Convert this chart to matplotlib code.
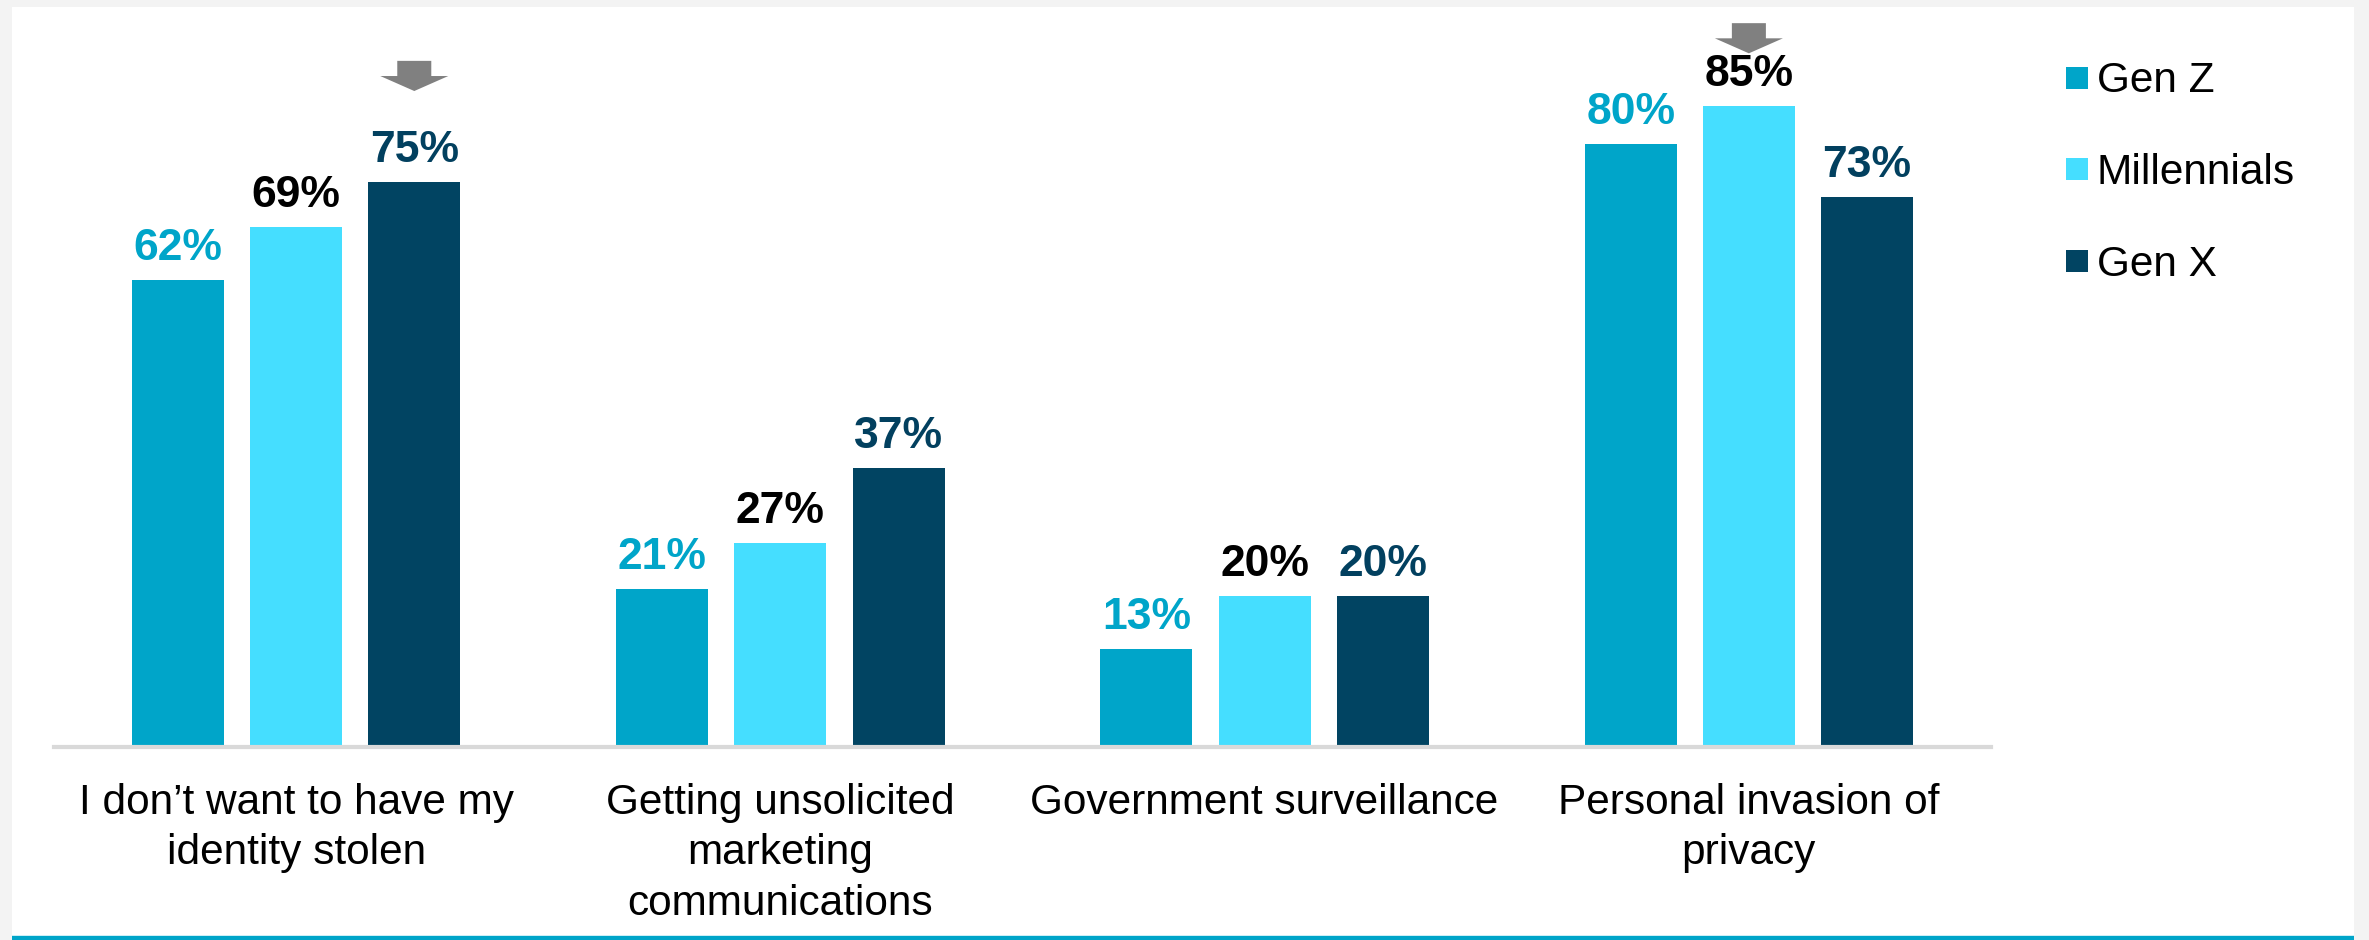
import matplotlib
matplotlib.use("Agg")
import matplotlib.pyplot as plt
from matplotlib.patches import Rectangle, Polygon
import numpy as np

plt.rcParams['font.family'] = ['Liberation Sans', 'DejaVu Sans']

categories = ["I don\u2019t want to have my\nidentity stolen",
              "Getting unsolicited\nmarketing\ncommunications",
              "Government surveillance",
              "Personal invasion of\nprivacy"]
series = ["Gen Z", "Millennials", "Gen X"]
gen_z = [0.62, 0.21, 0.13, 0.80]
millennials = [0.69, 0.27, 0.20, 0.85]
gen_x = [0.75, 0.37, 0.20, 0.73]
values = [gen_z, millennials, gen_x]

bar_colors = ["#00A5C9", "#45DEFF", "#014462"]
label_colors = ["#00A5C9", "#000000", "#02405F"]

W, H = 2369, 940
fig = plt.figure(figsize=(W / 100, H / 100), dpi=100)
fig.patch.set_facecolor("#F3F3F3")

# white panel and the teal rule at the bottom
fig.patches.append(Rectangle((12 / W, 4 / H), (2354 - 12) / W, (933 - 4) / H,
                             transform=fig.transFigure, facecolor="white",
                             edgecolor="none", zorder=-2))
fig.patches.append(Rectangle((12 / W, 0), (2354 - 12) / W, 4 / H,
                             transform=fig.transFigure, facecolor="#00A5C9",
                             edgecolor="none", zorder=-1))
fig.patches.append(Rectangle((12 / W, 4 / H), (2354 - 12) / W, 1.5 / H,
                             transform=fig.transFigure, facecolor="#CDEFF7",
                             edgecolor="none", zorder=-1))

# axes: baseline at y=747px, 1.0 == 754px, x from 54 to 1991 px
px_per_unit = 754.0
ytop = 0.98
ax_left, ax_right = 54, 1991
ax_bottom = 747
ax_h = ytop * px_per_unit
ax = fig.add_axes([ax_left / W, (H - ax_bottom) / H,
                   (ax_right - ax_left) / W, ax_h / H])
ax.set_zorder(2)
ax.set_facecolor("none")
ax.set_xlim(-0.5, len(categories) - 0.5)
ax.set_ylim(0, ytop)

x = np.arange(len(categories))
bar_w = 0.19
pitch = 0.244
for i, (name, vals) in enumerate(zip(series, values)):
    xs = x + (i - 1) * pitch
    ax.bar(xs, vals, width=bar_w, color=bar_colors[i], label=name, zorder=2)
    for xi, v in zip(xs, vals):
        ax.annotate(f"{round(v * 100)}%", (xi, v), xytext=(0, 14.4),
                    textcoords="offset points", ha="center", va="baseline",
                    fontsize=32, fontweight="bold", color=label_colors[i])

for s in ["top", "right", "left"]:
    ax.spines[s].set_visible(False)
ax.spines["bottom"].set_color("#D9D9D9")
ax.spines["bottom"].set_linewidth(3)
ax.set_yticks([])
ax.set_xticks(x)
ax.set_xticklabels(categories, fontsize=30.5, linespacing=1.33)
ax.tick_params(axis="x", length=0, pad=26)

# highlight arrows above the tallest bars
def down_arrow(xc, tip, top):
    half_shaft = 17 / 484
    half_head = 34 / 484
    head_len = 15 / px_per_unit
    pts = [(xc - half_shaft, top), (xc + half_shaft, top),
           (xc + half_shaft, tip + head_len), (xc + half_head, tip + head_len),
           (xc, tip), (xc - half_head, tip + head_len),
           (xc - half_shaft, tip + head_len)]
    ax.add_patch(Polygon(pts, closed=True, facecolor="#808080",
                         edgecolor="none", clip_on=False, zorder=3))

down_arrow(x[0] + pitch, gen_x[0] + 0.12, gen_x[0] + 0.16)
down_arrow(x[3], millennials[3] + 0.07, millennials[3] + 0.11)

# legend
leg_y = [78, 169, 261]
for i, name in enumerate(series):
    yc = leg_y[i]
    fig.patches.append(Rectangle((2066 / W, (H - yc - 11) / H), 22 / W, 22 / H,
                                 transform=fig.transFigure,
                                 facecolor=bar_colors[i], edgecolor="none"))
    fig.text(2097 / W, (H - yc - 14.5) / H, name, fontsize=30.5,
             ha="left", va="baseline", color="black")

fig.savefig("out.png", dpi=100, facecolor=fig.get_facecolor())
